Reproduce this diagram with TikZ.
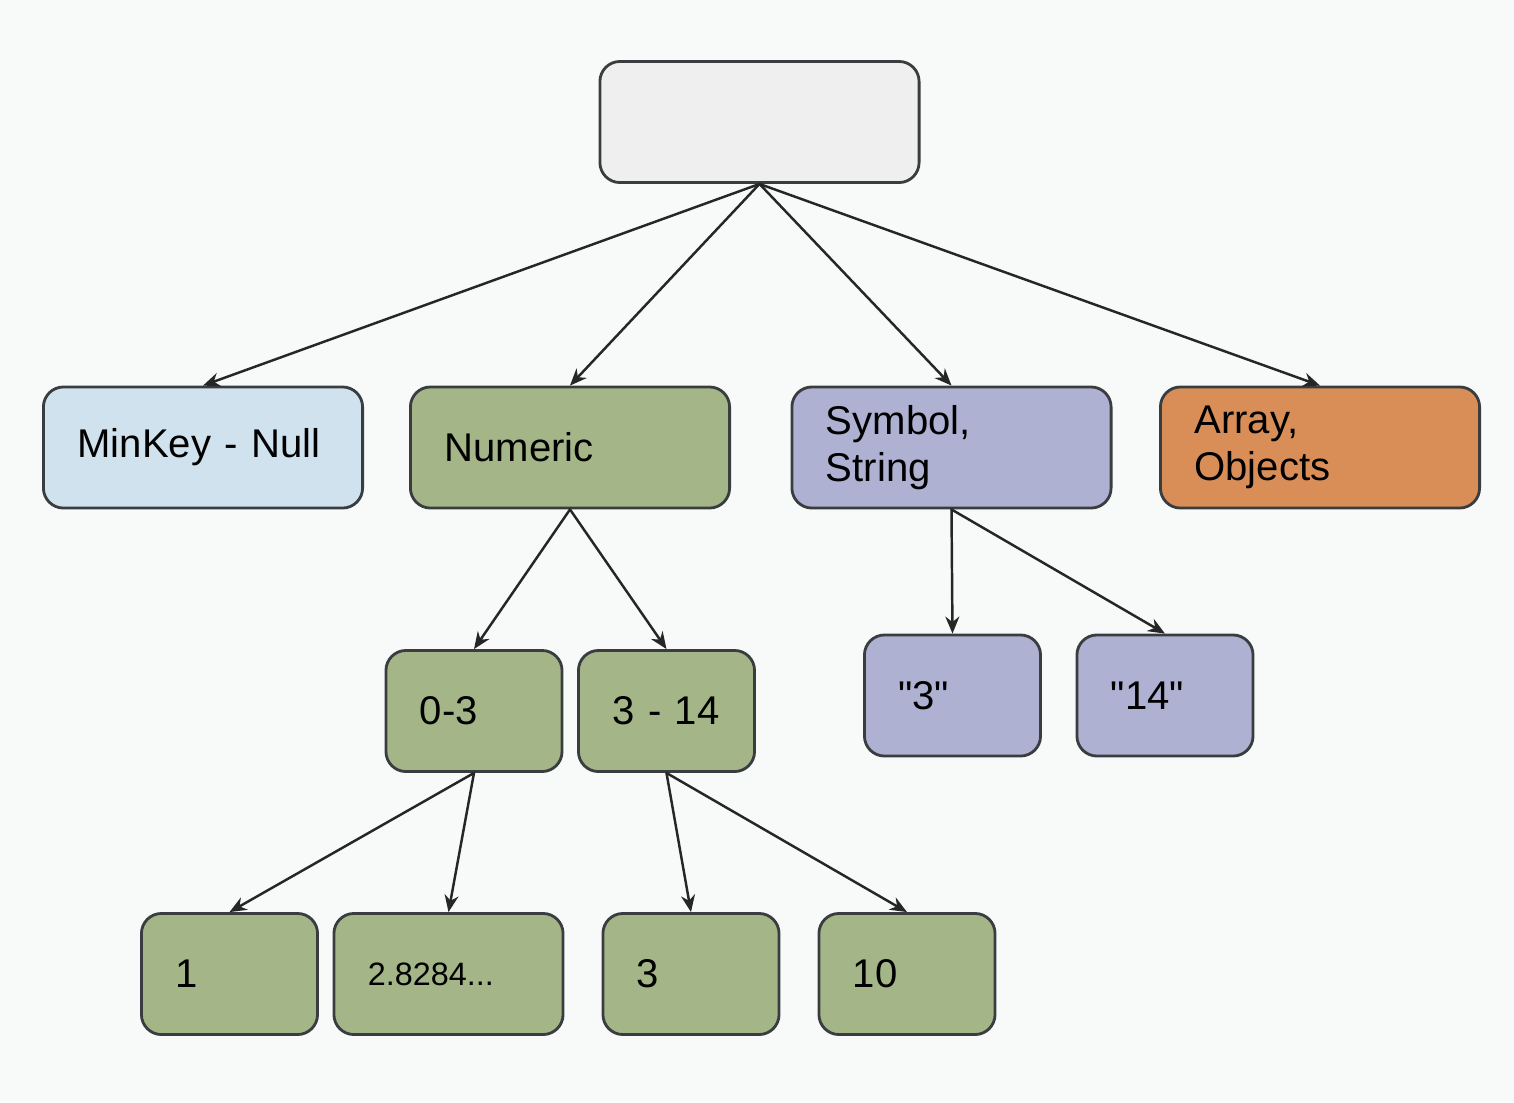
\documentclass[tikz,border=0pt]{standalone}
\usepackage{fontspec}
\setmainfont{Liberation Sans}[Ligatures=TeXOff]
\usetikzlibrary{arrows.meta}
\definecolor{bgpaper}{HTML}{F8FAFA}
\definecolor{boxline}{HTML}{3A3D40}
\definecolor{rootgray}{HTML}{EFEFEF}
\definecolor{nullblue}{HTML}{D0E2EE}
\definecolor{numgreen}{HTML}{A4B687}
\definecolor{strpurple}{HTML}{AEB1D1}
\definecolor{objorange}{HTML}{D98E57}
\tikzset{
  box/.style={draw=boxline, line width=0.8pt, rounded corners=0.2cm,
    inner xsep=0.34cm, inner ysep=0pt, minimum height=1.21cm,
    text width=#1, align=left, font=\fontsize{11.4}{13.5}\selectfont},
  link/.style={-{Stealth[length=1.7mm, width=1.4mm]}, draw=black!85, line width=0.7pt}
}
\begin{document}
\begin{tikzpicture}[x=0.01cm, y=-0.01cm, line join=round, line cap=round]
  \fill[bgpaper] (0,0) rectangle (1514,1102);
  \useasboundingbox (0,0) rectangle (1514,1102);
  % top level
  \node[box=2.51cm, fill=rootgray] (root) at (759.5,122) {};
  \node[box=2.51cm, fill=nullblue] (minkey) at (203,447.5) {MinKey - Null};
  \node[box=2.51cm, fill=numgreen] (numeric) at (570,447.5) {Numeric};
  \node[box=2.51cm, fill=strpurple] (symbol) at (951.5,447.5) {Symbol,\\String};
  \node[box=2.51cm, fill=objorange] (array) at (1320,447.5) {Array,\\Objects};
  % numeric ranges
  \node[box=1.08cm, fill=numgreen] (lowrange) at (474,711) {0-3};
  \node[box=1.08cm, fill=numgreen] (highrange) at (666.5,711) {3 - 14};
  % strings
  \node[box=1.08cm, fill=strpurple] (strthree) at (952.5,695.5) {"3"};
  \node[box=1.08cm, fill=strpurple] (strfourteen) at (1165,695.5) {"14"};
  % numeric values
  \node[box=1.08cm, fill=numgreen] (one) at (229.5,974) {1};
  \node[box=1.61cm, fill=numgreen, font=\fontsize{9.2}{11}\selectfont] (sqrteight) at (448.5,974) {2.8284...};
  \node[box=1.08cm, fill=numgreen] (three) at (691,974) {3};
  \node[box=1.08cm, fill=numgreen] (ten) at (907,974) {10};

  \foreach \s/\t in {root/minkey, root/numeric, root/symbol, root/array,
    numeric/lowrange, numeric/highrange, symbol/strthree, symbol/strfourteen,
    lowrange/one, lowrange/sqrteight, highrange/three, highrange/ten}
    \draw[link] (\s.south) -- (\t.north);
\end{tikzpicture}
\end{document}
